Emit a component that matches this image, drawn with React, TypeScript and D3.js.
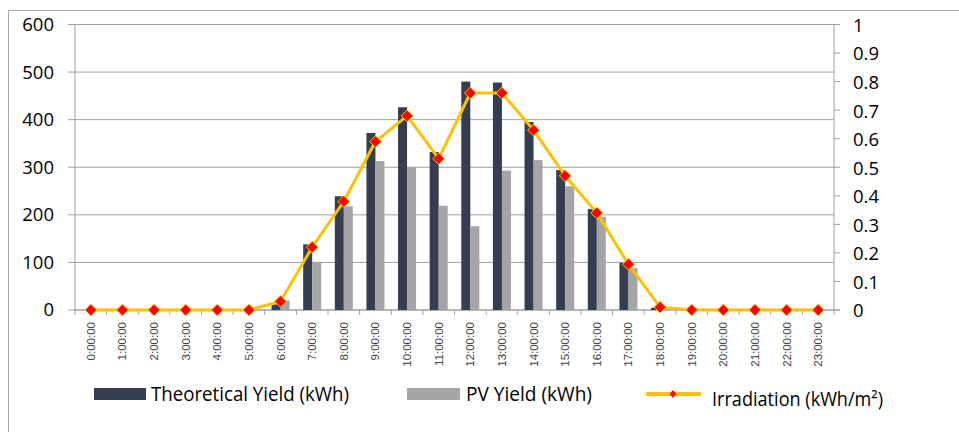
import React from "react";
import * as d3 from "d3";

const hours: string[] = [
  "0:00:00","1:00:00","2:00:00","3:00:00","4:00:00","5:00:00","6:00:00","7:00:00",
  "8:00:00","9:00:00","10:00:00","11:00:00","12:00:00","13:00:00","14:00:00","15:00:00",
  "16:00:00","17:00:00","18:00:00","19:00:00","20:00:00","21:00:00","22:00:00","23:00:00",
];
const theoreticalYield: number[] = [0,0,0,0,0,0,12,138,239,372,426,332,480,478,395,294,212,99,5,0,0,0,0,0];
const pvYield: number[] = [0,0,0,0,0,0,20,101,218,313,300,219,176,293,315,260,196,88,1,0,0,0,0,0];
const irradiation: number[] = [0,0,0,0,0,0,0.03,0.22,0.38,0.59,0.68,0.53,0.76,0.76,0.63,0.47,0.34,0.16,0.01,0,0,0,0,0];
const leftTicks: number[] = [0,100,200,300,400,500,600];
const rightTicks: number[] = [0,0.1,0.2,0.3,0.4,0.5,0.6,0.7,0.8,0.9,1];
const seriesNames: string[] = ["Theoretical Yield (kWh)", "PV Yield (kWh)", "Irradiation (kWh/m²)"];

const W = 959, H = 432;
const plotL = 75, plotR = 834, plotT = 24.5, plotB = 310;
const DARK = "#333F50", GRAY = "#A5A5A5", GOLD = "#FFC000", RED = "#FF0000", AXIS = "#A0A0A0";
const NUM_FONT = "'Open Sans', sans-serif";

export default function App() {
  const x = d3.scaleBand<string>().domain(hours).range([plotL, plotR]).padding(0);
  const bw = x.bandwidth();
  const groupW = bw * 0.57;
  const x1 = d3.scaleBand<string>().domain(["t", "p"]).range([0, groupW]).padding(0);
  const yL = d3.scaleLinear().domain([0, 600]).range([plotB, plotT]);
  const yR = d3.scaleLinear().domain([0, 1]).range([plotB, plotT]);
  const cx = (h: string) => (x(h) as number) + bw / 2;

  const line = d3.line<number>()
    .x((_, i) => cx(hours[i]))
    .y((d) => yR(d));

  const diamond = d3.symbol().type(d3.symbolDiamond2).size(88)();

  return (
    <div style={{ position: "fixed", left: 0, top: 0 }}>
      <svg width={W} height={H} style={{ display: "block", background: "#fff" }}>
        <rect x={8.5} y={10.5} width={W + 20} height={H + 20} fill="none" stroke="#A6A6A6" strokeWidth={1} />

        {leftTicks.map((t) => (
          <line key={"g" + t} x1={plotL} x2={plotR} y1={yL(t)} y2={yL(t)} stroke={AXIS} strokeWidth={1} />
        ))}
        <line x1={plotL} x2={plotL} y1={plotT} y2={plotB} stroke={AXIS} />
        {leftTicks.map((t) => (
          <g key={"lt" + t}>
            <line x1={plotL - 7} x2={plotL} y1={yL(t)} y2={yL(t)} stroke={AXIS} />
            <text x={54} y={yL(t)} dy="0.35em" textAnchor="end" fontFamily={NUM_FONT} fontSize={18.5} fill="#000">{t}</text>
          </g>
        ))}
        <line x1={plotR} x2={plotR} y1={plotT} y2={plotB} stroke={AXIS} />
        {rightTicks.map((t) => (
          <g key={"rt" + t}>
            <line x1={plotR} x2={plotR + 6} y1={yR(t)} y2={yR(t)} stroke={AXIS} />
            <text x={853} y={yR(t)} dy="0.4em" textAnchor="start" fontFamily={NUM_FONT} fontSize={18.5} fill="#000">{t}</text>
          </g>
        ))}
        <line x1={plotL} x2={plotR + 6} y1={plotB} y2={plotB} stroke={AXIS} />
        {hours.map((h) => (
          <line key={"xt" + h} x1={x(h) as number} x2={x(h) as number} y1={plotB} y2={plotB + 5} stroke={AXIS} />
        ))}
        <line x1={plotR} x2={plotR} y1={plotB} y2={plotB + 5} stroke={AXIS} />
        {hours.map((h) => (
          <text key={"xl" + h} transform={`translate(${cx(h) + 4},322) rotate(-90)`} textAnchor="end"
            fontFamily="'Liberation Sans', Arial, sans-serif" fontSize={11.5} fill="#404040">{h}</text>
        ))}

        {hours.map((h, i) => {
          const gx = cx(h) - groupW / 2;
          return (
            <g key={"b" + h}>
              <rect x={gx + (x1("t") as number)} y={yL(theoreticalYield[i])} width={x1.bandwidth()}
                height={plotB - yL(theoreticalYield[i])} fill={DARK} />
              <rect x={gx + (x1("p") as number)} y={yL(pvYield[i])} width={x1.bandwidth()}
                height={plotB - yL(pvYield[i])} fill={GRAY} />
            </g>
          );
        })}

        <path d={line(irradiation) as string} fill="none" stroke={GOLD} strokeWidth={3} strokeLinejoin="round" />
        {irradiation.map((v, i) => (
          <path key={"m" + i} d={diamond as string} transform={`translate(${cx(hours[i])},${yR(v)})`}
            fill={RED} stroke={GOLD} strokeWidth={1} />
        ))}

        <rect x={94} y={388} width={52} height={12} fill={DARK} />
        <text x={151} y={401} fontFamily={NUM_FONT} fontSize={19.5} fill="#000" textLength={198} lengthAdjust="spacingAndGlyphs">{seriesNames[0]}</text>
        <rect x={407} y={388} width={53} height={12} fill={GRAY} />
        <text x={466} y={401} fontFamily={NUM_FONT} fontSize={19.5} fill="#000" textLength={126} lengthAdjust="spacingAndGlyphs">{seriesNames[1]}</text>
        <line x1={646} x2={701} y1={394} y2={394} stroke={GOLD} strokeWidth={4} />
        <path d={d3.symbol().type(d3.symbolDiamond2).size(40)() as string} transform="translate(673,394)" fill={RED} stroke={GOLD} strokeWidth={1} />
        <text x={712} y={406} fontFamily={NUM_FONT} fontSize={19.5} fill="#000" textLength={171} lengthAdjust="spacingAndGlyphs">{seriesNames[2]}</text>
      </svg>
    </div>
  );
}
